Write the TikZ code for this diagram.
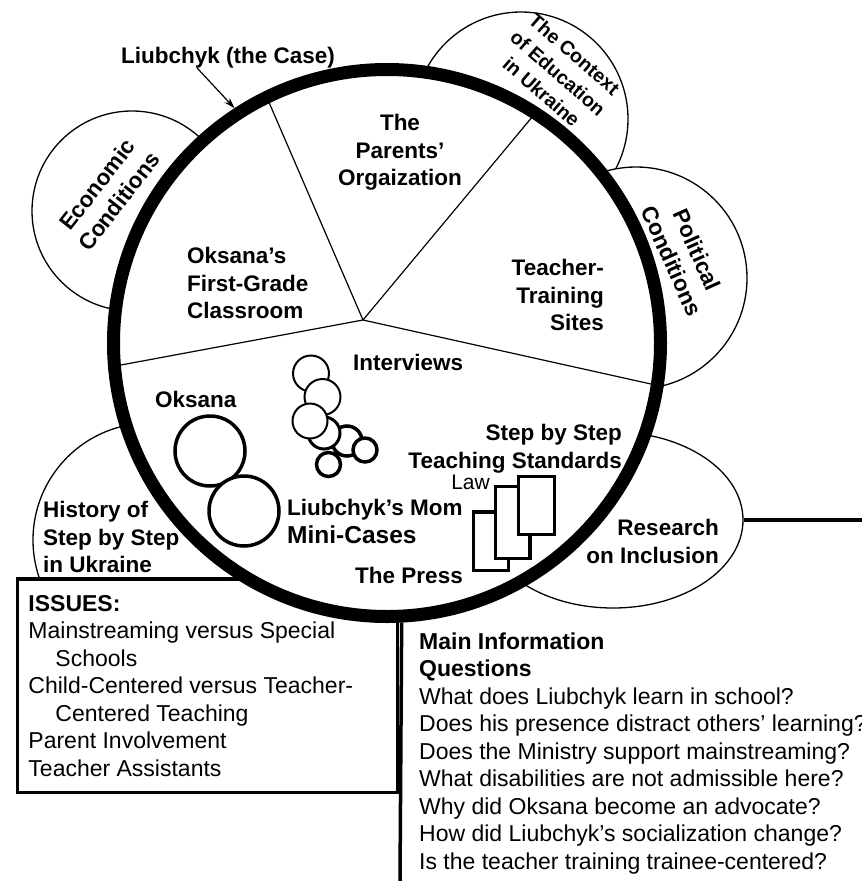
\documentclass[tikz,border=0pt]{standalone}
\usepackage{fontspec}
\setmainfont{Liberation Sans}
\usepackage{tikz}
\usetikzlibrary{positioning}
\usetikzlibrary{shapes.geometric}
\usetikzlibrary{arrows.meta}

\tikzset{
	casetext/.style={font=\fontsize{22.5}{27.5}\selectfont\bfseries, inner sep=0pt},
	bodytext/.style={font=\fontsize{23}{27.5}\selectfont, inner sep=0pt, align=left, anchor=north west},
	satellite/.style={circle, draw, line width=1.3pt, fill=white, inner sep=0pt},
	bubble/.style={circle, draw, fill=white, inner sep=0pt},
	doc/.style={rectangle, draw, line width=3.5pt, fill=white, inner sep=0pt}
}

\begin{document}
\begin{tikzpicture}[x=1pt, y=-1pt]

\useasboundingbox (0,0) rectangle (862,881);

\node[satellite, minimum size=200pt] (economic) at (132,211) {};
\node[satellite, minimum size=214pt] (context) at (521,119) {};
\node[satellite, minimum size=222pt] (political) at (636,278) {};
\node[satellite, minimum size=234pt] (history) at (150,540) {};
\node[
	ellipse,
	draw,
	line width=1.3pt,
	fill=white,
	inner sep=0pt,
	minimum width=260pt,
	minimum height=176pt
] (research) at (613,520) {};

\coordinate (rightedge) at (862,520);
\draw[line width=3.5pt] (research.east) -- (rightedge);

\node[
	draw,
	line width=3.5pt,
	fill=white,
	inner sep=0pt,
	minimum width=380pt,
	minimum height=213.5pt
] (issuesbox) at (207.5,685.75) {};

\node[
	circle,
	draw,
	line width=13pt,
	fill=white,
	inner sep=0pt,
	minimum size=547pt
] (liubchyk) at (387,343) {};

\coordinate (hub) at (363,320);
\draw[line width=1.2pt] (hub) -- (liubchyk.116.7)
	(hub) -- (liubchyk.57)
	(hub) -- (liubchyk.-9.8)
	(hub) -- (liubchyk.-175.1);

\node[bubble, line width=3.5pt, minimum size=70pt] (oksanaone) at (210,451) {};
\node[bubble, line width=3.5pt, minimum size=70pt] (oksanatwo) at (244,511) {};

\node[bubble, line width=2pt, minimum size=36pt] (talkone) at (311,373.5) {};
\node[bubble, line width=2pt, minimum size=36pt] (talktwo) at (322.5,397) {};
\node[bubble, line width=3.5pt, minimum size=30pt] (talkfive) at (347,441) {};
\node[bubble, line width=3pt, minimum size=32pt] (talkfour) at (324,433) {};
\node[bubble, line width=2pt, minimum size=35pt] (talkthree) at (310,421) {};
\node[bubble, line width=3.5pt, minimum size=24pt] (talksix) at (365,450) {};
\node[bubble, line width=3.5pt, minimum size=24pt] (talkseven) at (328.5,464.5) {};

\node[doc, minimum width=35pt, minimum height=58.5pt] (pressdoc) at (491,541) {};
\node[doc, minimum width=34.5pt, minimum height=72pt] (lawdoc) at (512.75,522.5) {};
\node[doc, minimum width=36pt, minimum height=58pt] (standardsdoc) at (536.5,505.5) {};

\node[casetext, anchor=base] (casename) at (228,63) {Liubchyk (the Case)};
\draw[line width=1.2pt, -{Stealth[length=11pt, width=7pt]}] ([xshift=-31pt]casename.south) -- (liubchyk.123);

\node[casetext, align=center, anchor=north] (parents) at (400,114) {The\\Parents'\\Orgaization};
\node[casetext, align=left, anchor=north west] (classroom) at (187,247) {Oksana's\\First-Grade\\Classroom};
\node[casetext, align=right, anchor=north east] (training) at (604,259) {Teacher-\\Training\\Sites};
\node[casetext, anchor=base west] (interviews) at (353,370) {Interviews};
\node[casetext, anchor=base west] (oksana) at (155,407) {Oksana};
\node[casetext, anchor=base west] (mom) at (287,515) {Liubchyk's Mom};
\node[casetext, font=\fontsize{24.5}{28}\selectfont\bfseries, anchor=base west] (minicases) at (287,543) {Mini-Cases};
\node[casetext, anchor=base east] (press) at (463,583) {The Press};
\node[casetext, align=right, anchor=north east] (standards) at (622,424) {Step by Step\\Teaching Standards};
\node[font=\fontsize{21}{25}\selectfont, inner sep=0pt, anchor=base east] (law) at (490,489) {Law};
\node[casetext, align=right, anchor=north east] (inclusion) at (719,519) {Research\\on Inclusion};
\node[casetext, align=left, anchor=north west] (historytext) at (43,501) {History of\\Step by Step\\in Ukraine};

\node[casetext, align=center, rotate=52] (economictext) at (108,193) {Economic\\Conditions};
\node[casetext, font=\fontsize{19.5}{25}\selectfont\bfseries, align=center, rotate=-41] (contexttext) at (558,73) {The Context\\of Education\\in Ukraine};
\node[casetext, align=center, rotate=-66] (politicaltext) at (684.5,255.5) {Political\\Conditions};

\node[bodytext, below right=17.5pt and 12.5pt of issuesbox.north west] (issues) {\textbf{ISSUES:}\\Mainstreaming versus Special\\\hspace*{27pt}Schools\\Child-Centered versus Teacher-\\\hspace*{27pt}Centered Teaching\\Parent Involvement\\Teacher Assistants};

\coordinate (qbottom) at (400,881);
\draw[line width=3.5pt] (liubchyk.-87.3) -- (qbottom);

\node[bodytext] (questions) at (419,632.5) {\textbf{Main Information}\\\textbf{Questions}\\What does Liubchyk learn in school?\\Does his presence distract others' learning?\\Does the Ministry support mainstreaming?\\What disabilities are not admissible here?\\Why did Oksana become an advocate?\\How did Liubchyk's socialization change?\\Is the teacher training trainee-centered?};

\end{tikzpicture}
\end{document}
